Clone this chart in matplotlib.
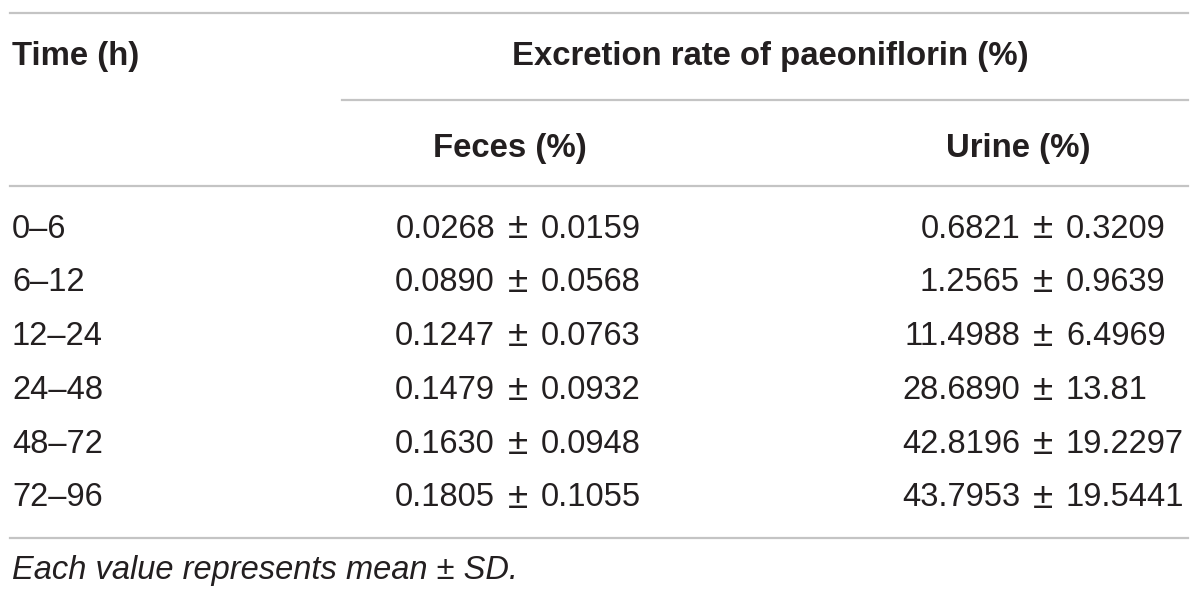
import matplotlib
matplotlib.use("Agg")
import matplotlib.pyplot as plt

time_labels = ["0–6", "6–12", "12–24", "24–48", "48–72", "72–96"]
feces_mean = ["0.0268", "0.0890", "0.1247", "0.1479", "0.1630", "0.1805"]
feces_sd = ["0.0159", "0.0568", "0.0763", "0.0932", "0.0948", "0.1055"]
urine_mean = ["0.6821", "1.2565", "11.4988", "28.6890", "42.8196", "43.7953"]
urine_sd = ["0.3209", "0.9639", "6.4969", "13.81", "19.2297", "19.5441"]

header_time = "Time (h)"
header_group = "Excretion rate of paeoniflorin (%)"
header_feces = "Feces (%)"
header_urine = "Urine (%)"
footnote = "Each value represents mean ± SD."

W, H = 1200, 601
fig = plt.figure(figsize=(W / 100, H / 100), dpi=100)
ax = fig.add_axes([0, 0, 1, 1])
ax.set_xlim(0, W)
ax.set_ylim(H, 0)
ax.axis("off")

FONT = "Liberation Sans"
TXT = "#231f20"
LINE = "#c4c4c4"
FS = 23.5
HFS = 23.7

# rules
ax.plot([10, 1188], [13, 13], color=LINE, lw=1.6)
ax.plot([342, 1188], [100, 100], color=LINE, lw=1.6)
ax.plot([10, 1188], [186, 186], color=LINE, lw=1.6)
ax.plot([10, 1188], [538, 538], color=LINE, lw=1.6)

# headers
ax.text(12, 56, header_time, ha="left", va="center", fontsize=HFS,
        fontweight="bold", family=FONT, color=TXT)
ax.text(770, 56, header_group, ha="center", va="center", fontsize=HFS,
        fontweight="bold", family=FONT, color=TXT)
ax.text(510, 148, header_feces, ha="center", va="center", fontsize=HFS,
        fontweight="bold", family=FONT, color=TXT)
ax.text(1018, 148, header_urine, ha="center", va="center", fontsize=HFS,
        fontweight="bold", family=FONT, color=TXT)

row_y0, row_dy = 229, 53.8
feces_pm, urine_pm = 518, 1043
gap = 23
for i, t in enumerate(time_labels):
    y = row_y0 + i * row_dy
    ax.text(12, y, t, ha="left", va="center", fontsize=FS, family=FONT, color=TXT)
    for pm, m, s in ((feces_pm, feces_mean[i], feces_sd[i]),
                     (urine_pm, urine_mean[i], urine_sd[i])):
        ax.text(pm - gap, y, m, ha="right", va="center", fontsize=FS, family=FONT, color=TXT)
        ax.text(pm, y, "±", ha="center", va="center", fontsize=FS + 3, family=FONT, color=TXT)
        ax.text(pm + gap, y, s, ha="left", va="center", fontsize=FS, family=FONT, color=TXT)

ax.text(12, 570, footnote, ha="left", va="center", fontsize=FS,
        style="italic", family=FONT, color=TXT)

fig.savefig("out.png", dpi=100, facecolor="white")
